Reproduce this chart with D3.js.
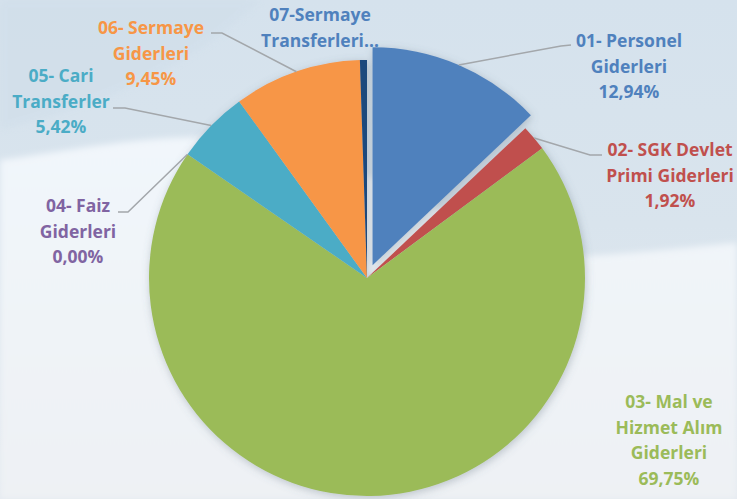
<!DOCTYPE html>
<html>
<head>
<meta charset="utf-8">
<script src="https://cdn.jsdelivr.net/npm/d3@7/dist/d3.min.js"></script>
<style>
  html, body { margin: 0; padding: 0; background: #e6edf3; }
  svg { display: block; }
  text { font-family: "Open Sans", Lato, sans-serif; font-weight: 700; }
</style>
</head>
<body>
<svg id="chart" width="737" height="499"></svg>
<script>
// ---- data ----
const categories = [
  "01- Personel Giderleri",
  "02- SGK Devlet Primi Giderleri",
  "03- Mal ve Hizmet Alım Giderleri",
  "04- Faiz Giderleri",
  "05- Cari Transferler",
  "06- Sermaye Giderleri",
  "07-Sermaye Transferleri"
];
const values = [12.94, 1.92, 69.75, 0.00, 5.42, 9.45, 0.52];
const labelLines = [
  ["01- Personel", "Giderleri"],
  ["02- SGK Devlet", "Primi Giderleri"],
  ["03- Mal ve", "Hizmet Alım", "Giderleri"],
  ["04- Faiz", "Giderleri"],
  ["05- Cari", "Transferler"],
  ["06- Sermaye", "Giderleri"],
  ["07-Sermaye", "Transferleri…"]
];
const showPercent = [true, true, true, true, true, true, false];
const sliceColors = ["#4F81BD", "#C0504D", "#9BBB59", "#8064A2", "#4BACC6", "#F79646", "#1F497D"];
const textColors  = ["#4F81BD", "#C0504D", "#9BBB59", "#8064A2", "#4BACC6", "#F79646", "#4F81BD"];

// ---- layout ----
const W = 737, H = 499;
const cx = 367, cy = 278, R = 218;
const explode = [14, 0, 0, 0, 0, 0, 0];
const lineH = 25.5;
// label centre x and first line centre y
const labelPos = [
  [629, 41], [670, 150], [669, 402], [78, 206], [61, 76], [151, 28], [320, 15]
];
// leader: label-side point, elbow point (then to arc midpoint); null = none
const leaderPts = [
  [[571, 45], [561, 46]],
  [[602, 155], [590, 155]],
  null,
  [[118, 212], [128, 212]],
  [[113, 108], [125, 108]],
  [[211, 33], [222, 33]],
  null
];

const svg = d3.select("#chart");
const defs = svg.append("defs");

// background
const bg = defs.append("linearGradient").attr("id", "bg").attr("x1", 0).attr("y1", 0).attr("x2", 0).attr("y2", 1);
bg.append("stop").attr("offset", 0).attr("stop-color", "#d5e2ed");
bg.append("stop").attr("offset", 0.45).attr("stop-color", "#d9e4ed");
bg.append("stop").attr("offset", 1).attr("stop-color", "#e4eaf0");
svg.append("rect").attr("width", W).attr("height", H).attr("fill", "url(#bg)");

const sw = defs.append("linearGradient").attr("id", "sw").attr("x1", 0).attr("y1", 0).attr("x2", 0).attr("y2", 1);
sw.append("stop").attr("offset", 0).attr("stop-color", "#f1f6fb");
sw.append("stop").attr("offset", 1).attr("stop-color", "#eef1f4");
defs.append("filter").attr("id", "soft").append("feGaussianBlur").attr("stdDeviation", 3);
svg.append("path")
  .attr("d", "M0,160 C80,150 160,130 250,140 C380,160 480,250 590,256 C650,252 700,246 737,243 L737,499 L0,499 Z")
  .attr("fill", "url(#sw)").attr("filter", "url(#soft)");
// faint darker band top-left
svg.append("path")
  .attr("d", "M0,0 L260,0 C200,60 120,100 0,130 Z")
  .attr("fill", "#cfdde9").attr("opacity", 0.5).attr("filter", "url(#soft)");

// shadow filter
const sh = defs.append("filter").attr("id", "shadow").attr("x", -0.2).attr("y", -0.2).attr("width", 1.4).attr("height", 1.4);
sh.append("feDropShadow").attr("dx", 1).attr("dy", 2).attr("stdDeviation", 4)
  .attr("flood-color", "#5a6a7a").attr("flood-opacity", 0.35);

// pie
const pie = d3.pie().sort(null).value(d => d)(values);
const arc = d3.arc().innerRadius(0).outerRadius(R);

const g = svg.append("g").attr("transform", `translate(${cx},${cy})`).attr("filter", "url(#shadow)");
const offset = (d, i) => {
  const a = (d.startAngle + d.endAngle) / 2;
  return [Math.sin(a) * explode[i], -Math.cos(a) * explode[i]];
};
g.selectAll("path.slice").data(pie).join("path")
  .attr("class", "slice")
  .attr("d", arc)
  .attr("fill", (d, i) => sliceColors[i])
  .attr("transform", (d, i) => { const o = offset(d, i); return `translate(${o[0]},${o[1]})`; });

// leaders
pie.forEach((d, i) => {
  if (!leaderPts[i]) return;
  const a = (d.startAngle + d.endAngle) / 2;
  const o = offset(d, i);
  const p = [cx + o[0] + Math.sin(a) * R, cy + o[1] - Math.cos(a) * R];
  const pts = leaderPts[i].concat([p]);
  svg.append("path")
    .attr("d", d3.line()(pts))
    .attr("fill", "none").attr("stroke", "#a3a7ab").attr("stroke-width", 1.5);
});

// labels
const fmt = v => d3.format(".2f")(v).replace(".", ",") + "%";
pie.forEach((d, i) => {
  const lines = labelLines[i].slice();
  if (showPercent[i]) lines.push(fmt(values[i]));
  const t = svg.append("text")
    .attr("text-anchor", "middle")
    .attr("fill", textColors[i])
    .attr("font-size", 17.5);
  lines.forEach((ln, k) => {
    t.append("tspan")
      .attr("x", labelPos[i][0])
      .attr("y", labelPos[i][1] + k * lineH)
      .attr("dy", "0.36em")
      .text(ln);
  });
});
</script>
</body>
</html>
